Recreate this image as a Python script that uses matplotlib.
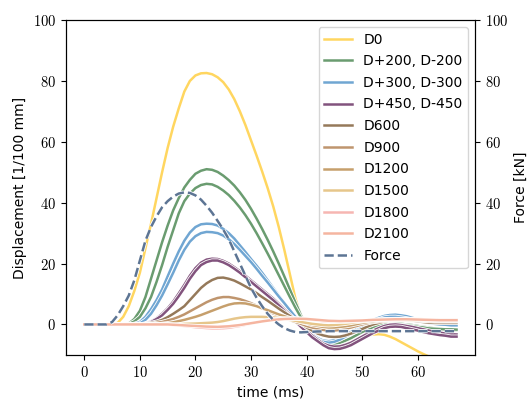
import matplotlib
matplotlib.use("Agg")
import matplotlib.pyplot as plt
import matplotlib.patheffects as pe
from matplotlib.ticker import FuncFormatter
import numpy as np

plt.rcParams['mathtext.fontset'] = 'cm'
plt.rcParams['font.family'] = 'DejaVu Sans'

# time axis (ms), one reading per ms
time = np.arange(0, 68)

# displacement readings [1/100 mm], rows of 10 ms
d0 = [0, 0, 0, 0, 0, 0.1, 0.5, 2.5, 6, 11,
      17, 25, 33, 41.5, 50, 58, 65, 71, 76.5, 80,
      81.8, 82.5, 82.6, 82.2, 81.2, 79.6, 77.2, 74, 70, 65.5,
      60.5, 55.5, 50.3, 44.8, 38.8, 32, 24.5, 16.5, 8.5, 2.8,
      -1, -3.5, -5.5, -6.8, -7.5, -7.5, -7, -6.3, -5.5, -4.8,
      -4.2, -3.6, -3.3, -3.2, -3.4, -4, -4.8, -5.8, -6.8, -7.8,
      -8.8, -9.7, -10.5, -11.3, -12, -12.5, -13, -13.3]
d_p200 = [0, 0, 0, 0, 0, 0, 0, 0, 0.3, 1.8,
          4.5, 9, 15, 21, 27, 32.5, 37.5, 41.5, 45, 47.5,
          49.5, 50.5, 51, 50.8, 50.1, 48.9, 47.4, 45.6, 43.4, 40.9,
          38, 34.8, 31.4, 27.8, 24, 20, 15.8, 11.5, 7.2, 3,
          -0.7, -3.2, -5, -6.3, -7, -7, -6.5, -5.5, -4.5, -3.5,
          -2.5, -1.7, -1, -0.4, 0, 0.2, 0.3, 0.2, 0, -0.2,
          -0.5, -0.8, -1, -1.3, -1.5, -1.7, -1.8, -1.9]
d_m200 = [0, 0, 0, 0, 0, 0, 0, 0, 0.1, 1,
          2.5, 5.3, 9, 14, 19.5, 25.5, 31, 36.5, 40.5, 43,
          44.8, 45.8, 46.2, 46, 45.2, 44, 42.5, 40.6, 38.4, 35.9,
          33.1, 30, 26.7, 23.3, 19.8, 16.2, 12.6, 9, 5.5, 2.3,
          -0.5, -3, -5, -6, -6.5, -6.4, -6, -5.3, -4.5, -3.5,
          -2.5, -1.7, -1, -0.4, 0, 0.1, 0, -0.1, -0.3, -0.5,
          -0.8, -1, -1.3, -1.4, -1.5, -1.6, -1.6, -1.7]
d_p300 = [0, 0, 0, 0, 0, 0, 0, 0, 0, 0.2,
          0.8, 2.5, 5, 8, 11.5, 15.8, 20, 24, 27.5, 30.2,
          32, 32.9, 33.1, 33, 32.5, 31.4, 30, 28.2, 26, 23.8,
          21.5, 19.3, 17, 14.5, 12, 9.5, 7, 4.7, 2.5, 0.5,
          -1.5, -3.2, -4.5, -5.3, -5.5, -5.2, -4.5, -3.5, -2.5, -1.5,
          -0.5, 0.5, 1.5, 2.2, 2.8, 3.1, 3.2, 3, 2.7, 2.2,
          1.7, 1.3, 0.9, 0.6, 0.3, 0.1, 0, 0]
d_m300 = [0, 0, 0, 0, 0, 0, 0, 0, 0, 0.05,
          0.3, 1.5, 3.5, 6.3, 9.5, 13.2, 17, 21, 24.5, 27.2,
          29, 30, 30.4, 30.3, 30, 29.2, 28, 26.4, 24.5, 22.5,
          20.5, 18.3, 16, 13.8, 11.5, 9.2, 7, 4.7, 2.5, 0.2,
          -2, -3.7, -5, -5.7, -6, -5.7, -5, -4, -3, -2,
          -1, 0, 1, 1.7, 2.3, 2.5, 2.5, 2.3, 2, 1.6,
          1.2, 0.8, 0.5, 0.2, 0, -0.1, -0.3, -0.3]
d_p450 = [0, 0, 0, 0, 0, 0, 0, 0, 0, 0,
          0, 0.3, 1, 2, 3.5, 5.3, 7.5, 10.2, 13, 16,
          18.5, 20.3, 21.3, 21.6, 21.5, 20.9, 20, 18.8, 17.5, 16,
          14.5, 13, 11.5, 10, 8.5, 6.8, 5, 3.2, 1.5, -0.3,
          -2, -3.6, -5, -6.3, -7, -7.3, -7.2, -6.7, -6, -5,
          -4, -3, -2, -1.2, -0.5, -0.1, 0, -0.2, -0.5, -0.8,
          -1.2, -1.6, -2, -2.4, -2.7, -3, -3.2, -3.3]
d_m450 = [0, 0, 0, 0, 0, 0, 0, 0, 0, 0,
          0, 0.2, 0.8, 1.8, 3, 4.8, 6.8, 9.3, 12, 15,
          17.5, 19.5, 20.5, 21, 21, 20.4, 19.5, 18.3, 17, 15.5,
          14, 12.5, 11, 9.5, 8, 6.3, 4.5, 2.7, 1, -0.8,
          -2.5, -4.2, -5.5, -6.8, -7.8, -8.1, -8, -7.5, -6.8, -5.8,
          -4.8, -3.8, -2.8, -2, -1.2, -0.8, -0.7, -0.8, -1.2, -1.6,
          -2, -2.5, -2.9, -3.2, -3.5, -3.7, -4, -4]
d600 = [0, 0, 0, 0, 0, 0, 0, 0, 0, 0,
        0, 0.2, 0.5, 0.9, 1.5, 2.4, 3.5, 4.7, 6, 8,
        10, 12, 13.5, 14.6, 15.3, 15.4, 15, 14.4, 13.5, 12.5,
        11.5, 10.3, 9, 7.8, 6.5, 5.2, 4, 2.8, 1.5, 0.2,
        -1, -2, -3, -3.6, -4, -4.1, -4, -3.6, -3, -2.3,
        -1.5, -0.7, 0, 0.5, 1, 1.3, 1.5, 1.6, 1.5, 1.3,
        1, 0.8, 0.6, 0.5, 0.5, 0.5, 0.5, 0.5]
d900 = [0, 0, 0, 0, 0, 0, 0, 0, 0, 0,
        0, 0, 0.2, 0.5, 0.8, 1.3, 1.8, 2.5, 3.3, 4.3,
        5.3, 6.3, 7.3, 8.1, 8.7, 9, 9, 8.7, 8.3, 7.7,
        7, 6.2, 5.3, 4.5, 3.6, 2.8, 2, 1.4, 0.8, 0.2,
        -0.5, -1, -1.5, -1.8, -2, -2, -1.8, -1.4, -1, -0.5,
        0, 0.4, 0.8, 1, 1.2, 1.4, 1.5, 1.5, 1.5, 1.4,
        1.3, 1.2, 1.1, 1, 1, 1, 1, 1]
d1200 = [0, 0, 0, 0, 0, 0, 0, 0, 0, 0,
         0, 0, 0, 0, 0.2, 0.4, 0.7, 1.1, 1.5, 2,
         2.5, 3.1, 3.8, 4.5, 5.2, 5.9, 6.5, 6.9, 7, 6.9,
         6.5, 6, 5.3, 4.7, 4, 3.3, 2.7, 2.1, 1.5, 0.9,
         0.3, -0.2, -0.5, -0.8, -1, -1, -0.8, -0.6, -0.3, 0.1,
         0.5, 0.8, 1, 1.3, 1.5, 1.6, 1.7, 1.8, 1.8, 1.8,
         1.8, 1.7, 1.6, 1.5, 1.5, 1.4, 1.4, 1.4]
d1500 = [0, 0, 0, 0, 0, 0, 0, 0, 0, 0,
         0, 0, 0, 0, 0, 0, 0, 0, 0.2, 0.25,
         0.3, 0.4, 0.5, 0.6, 0.8, 1.1, 1.5, 1.9, 2.2, 2.4,
         2.5, 2.5, 2.5, 2.4, 2.3, 2.1, 1.8, 1.5, 1.2, 0.8,
         0.5, 0.2, 0, -0.2, -0.3, -0.2, 0, 0.2, 0.5, 0.8,
         1, 1.2, 1.3, 1.4, 1.5, 1.5, 1.5, 1.5, 1.5, 1.4,
         1.4, 1.3, 1.3, 1.2, 1.2, 1.2, 1.2, 1.2]
d1800 = [0, 0, 0, 0, 0, 0, 0, 0, 0, 0,
         0, 0, 0, 0, 0, 0, -0.2, -0.35, -0.5, -0.7,
         -0.9, -1.05, -1.2, -1.3, -1.3, -1.25, -1.1, -0.8, -0.5, -0.1,
         0.3, 0.7, 1, 1.3, 1.6, 1.8, 2, 2, 2, 1.9,
         1.8, 1.6, 1.3, 1.1, 1, 0.9, 0.9, 0.9, 1, 1.1,
         1.2, 1.35, 1.5, 1.6, 1.7, 1.75, 1.8, 1.8, 1.8, 1.75,
         1.7, 1.65, 1.6, 1.55, 1.5, 1.5, 1.5, 1.5]
d2100 = [0, 0, 0, 0, 0, 0, 0, 0, 0, 0,
         0, 0, 0, 0, 0, 0, -0.1, -0.2, -0.3, -0.4,
         -0.5, -0.6, -0.7, -0.75, -0.8, -0.7, -0.6, -0.4, -0.2, 0.1,
         0.4, 0.7, 1, 1.25, 1.5, 1.65, 1.8, 1.85, 1.9, 1.85,
         1.8, 1.65, 1.5, 1.35, 1.2, 1.15, 1.1, 1.15, 1.2, 1.25,
         1.3, 1.4, 1.5, 1.55, 1.6, 1.65, 1.7, 1.7, 1.7, 1.65,
         1.6, 1.55, 1.5, 1.45, 1.4, 1.4, 1.4, 1.4]

# applied force [kN]
force = [0, 0, 0, 0, 0, 0.8, 3, 6, 9.5, 14.5,
         21, 27.5, 32, 35.5, 38.5, 40.5, 42, 43, 43.4, 43.2,
         42.4, 41, 39, 36.7, 34, 31.2, 28, 24, 20, 16,
         12, 8.8, 6, 3.5, 1.5, 0, -1.2, -2, -2.5, -2.6,
         -2.5, -2.4, -2.3, -2.3, -2.2, -2.2, -2.2, -2.2, -2.2, -2.2,
         -2.2, -2.2, -2.2, -2.2, -2.2, -2.2, -2.2, -2.2, -2.2, -2.2,
         -2.2, -2.2, -2.2, -2.2, -2.2, -2.2, -2.2, -2.2]

# legend label, colour, series drawn in that colour
groups = [
    ("D0", "#ffd24f", [d0]),
    ("D+200, D-200", "#5a9160", [d_p200, d_m200]),
    ("D+300, D-300", "#609cce", [d_p300, d_m300]),
    ("D+450, D-450", "#74406f", [d_p450, d_m450]),
    ("D600", "#8a6b48", [d600]),
    ("D900", "#b88a5e", [d900]),
    ("D1200", "#c0955c", [d1200]),
    ("D1500", "#e4c07e", [d1500]),
    ("D1800", "#f5aeaa", [d1800]),
    ("D2100", "#f4ad96", [d2100]),
]

fig, ax = plt.subplots(figsize=(5.3, 4.01), dpi=100)
fig.subplots_adjust(left=0.1245, right=0.896, bottom=0.115, top=0.95)
ax2 = ax.twinx()

halo = [pe.withStroke(linewidth=3.0, foreground="white")]
handles = []
for label, color, series in groups:
    for i, s in enumerate(series):
        line, = ax.plot(time, s, color=color, lw=1.8, alpha=0.9, path_effects=halo)
        if i == 0:
            line.set_label(label)
            handles.append(line)

fline, = ax2.plot(time, force, color="#5d7594", lw=1.8, ls="--",
                  path_effects=halo, label="Force")
handles.append(fline)

fmt = FuncFormatter(lambda v, p: f"${v:g}$")
for a in (ax, ax2):
    a.set_ylim(-10, 100)
    a.set_yticks([0, 20, 40, 60, 80, 100])
    a.yaxis.set_major_formatter(fmt)
    a.tick_params(labelsize=10.5)
ax.set_xlim(-3.3, 70.3)
ax.set_xticks([0, 10, 20, 30, 40, 50, 60])
ax.xaxis.set_major_formatter(fmt)

ax.set_xlabel("time (ms)", fontsize=10)
ax.set_ylabel("Displacement [1/100 mm]", fontsize=10)
ax2.set_ylabel("Force [kN]", fontsize=10)

ax2.legend(handles=handles, loc="upper right", fontsize=10, labelspacing=0.55)

fig.savefig("out.png", dpi=100)
